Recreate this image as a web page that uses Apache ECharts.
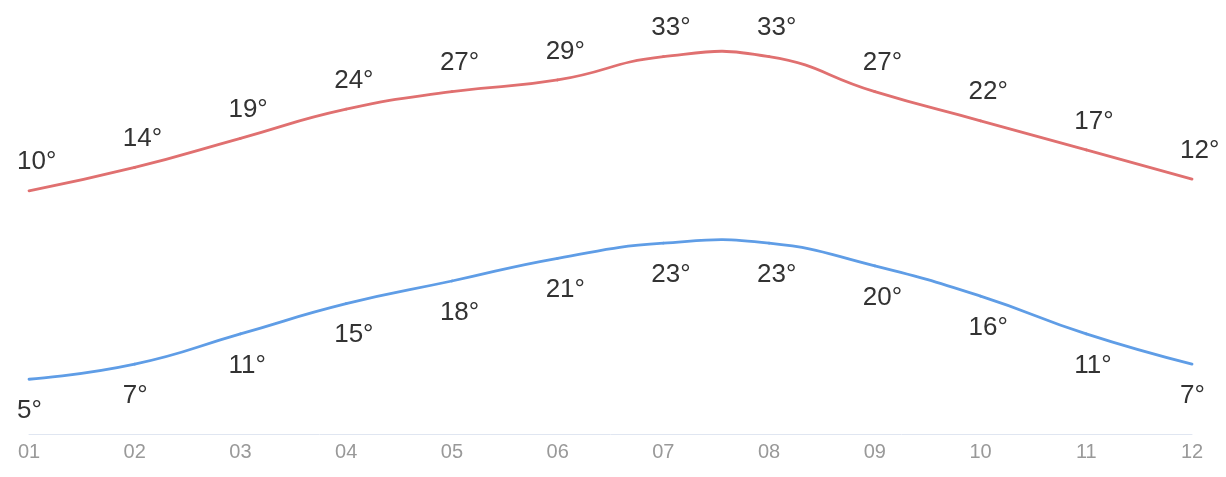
<!DOCTYPE html>
<html>
<head>
<meta charset="utf-8">
<script src="https://cdn.jsdelivr.net/npm/echarts@6/dist/echarts.min.js"></script>
<style>
html,body{margin:0;padding:0;background:#fff;}
#chart{width:1226px;height:477px;}
</style>
</head>
<body>
<div id="chart"></div>
<script>
const months = ['01','02','03','04','05','06','07','08','09','10','11','12'];
const highTemps = [10,14,19,24,27,29,33,33,27,22,17,12];
const lowTemps = [5,7,11,15,18,21,23,23,20,16,11,7];

const FONT = "'Liberation Sans', Arial, sans-serif";
const SMOOTH = 0.5;

// Draws one smooth (unconstrained) bezier segment from point i to i+1,
// with positions taken from the chart's own axes via api.coord.
function curveRenderer(values, color) {
  return function (params, api) {
    const i = params.dataIndex;
    const n = values.length;
    if (i >= n - 1) return null;
    const P = k => api.coord([k, values[k]]);
    const p0 = P(i), p1 = P(i + 1);
    function cps(k) {
      const p = P(k);
      if (k === 0 || k === n - 1) return [p, p];
      const prev = P(k - 1), next = P(k + 1);
      const vx = (next[0] - prev[0]) * SMOOTH, vy = (next[1] - prev[1]) * SMOOTH;
      let d0 = Math.hypot(p[0] - prev[0], p[1] - prev[1]);
      let d1 = Math.hypot(p[0] - next[0], p[1] - next[1]);
      const s = d0 + d1;
      if (s) { d0 /= s; d1 /= s; }
      return [[p[0] - vx * d0, p[1] - vy * d0], [p[0] + vx * d1, p[1] + vy * d1]];
    }
    const c1 = cps(i)[1], c2 = cps(i + 1)[0];
    return {
      type: 'bezierCurve',
      shape: { x1: p0[0], y1: p0[1], x2: p1[0], y2: p1[1],
               cpx1: c1[0], cpy1: c1[1], cpx2: c2[0], cpy2: c2[1] },
      style: { stroke: color, lineWidth: 2.8, fill: null, lineCap: 'round' },
      silent: true
    };
  };
}

const chart = echarts.init(document.getElementById('chart'));
chart.setOption({
  animation: false,
  backgroundColor: '#fff',
  grid: { left: 29, right: 34, top: 10, bottom: 43 },
  xAxis: {
    type: 'category',
    data: months,
    boundaryGap: false,
    axisLine: { onZero: false, lineStyle: { color: '#E0E6F1', width: 1 } },
    axisTick: { show: false },
    axisLabel: { color: '#999', fontSize: 20, fontFamily: FONT, margin: 8 },
    splitLine: { show: false }
  },
  yAxis: [
    { type: 'value', min: -31.7, max: 41.0, show: false, splitLine: { show: false } },
    { type: 'value', min: -2.24, max: 53.85, show: false, splitLine: { show: false } }
  ],
  series: [
    {
      name: 'highCurve', type: 'custom', yAxisIndex: 0, clip: false,
      data: highTemps.map((v, i) => [i, v]),
      renderItem: curveRenderer(highTemps, '#e07070')
    },
    {
      name: 'lowCurve', type: 'custom', yAxisIndex: 1, clip: false,
      data: lowTemps.map((v, i) => [i, v]),
      renderItem: curveRenderer(lowTemps, '#5f9de6')
    },
    {
      name: 'high', type: 'line', yAxisIndex: 0, data: highTemps,
      symbol: 'circle', symbolSize: 1,
      lineStyle: { opacity: 0 },
      itemStyle: { color: '#e07070' },
      label: {
        show: true, position: 'top', distance: 15, align: 'left', offset: [-12, 0],
        formatter: '{c}°', color: '#333', fontSize: 26, fontFamily: FONT
      }
    },
    {
      name: 'low', type: 'line', yAxisIndex: 1, data: lowTemps,
      symbol: 'circle', symbolSize: 1,
      lineStyle: { opacity: 0 },
      itemStyle: { color: '#5f9de6' },
      label: {
        show: true, position: 'bottom', distance: 18, align: 'left', offset: [-12, 0],
        formatter: '{c}°', color: '#333', fontSize: 26, fontFamily: FONT
      }
    }
  ]
});
</script>
</body>
</html>
